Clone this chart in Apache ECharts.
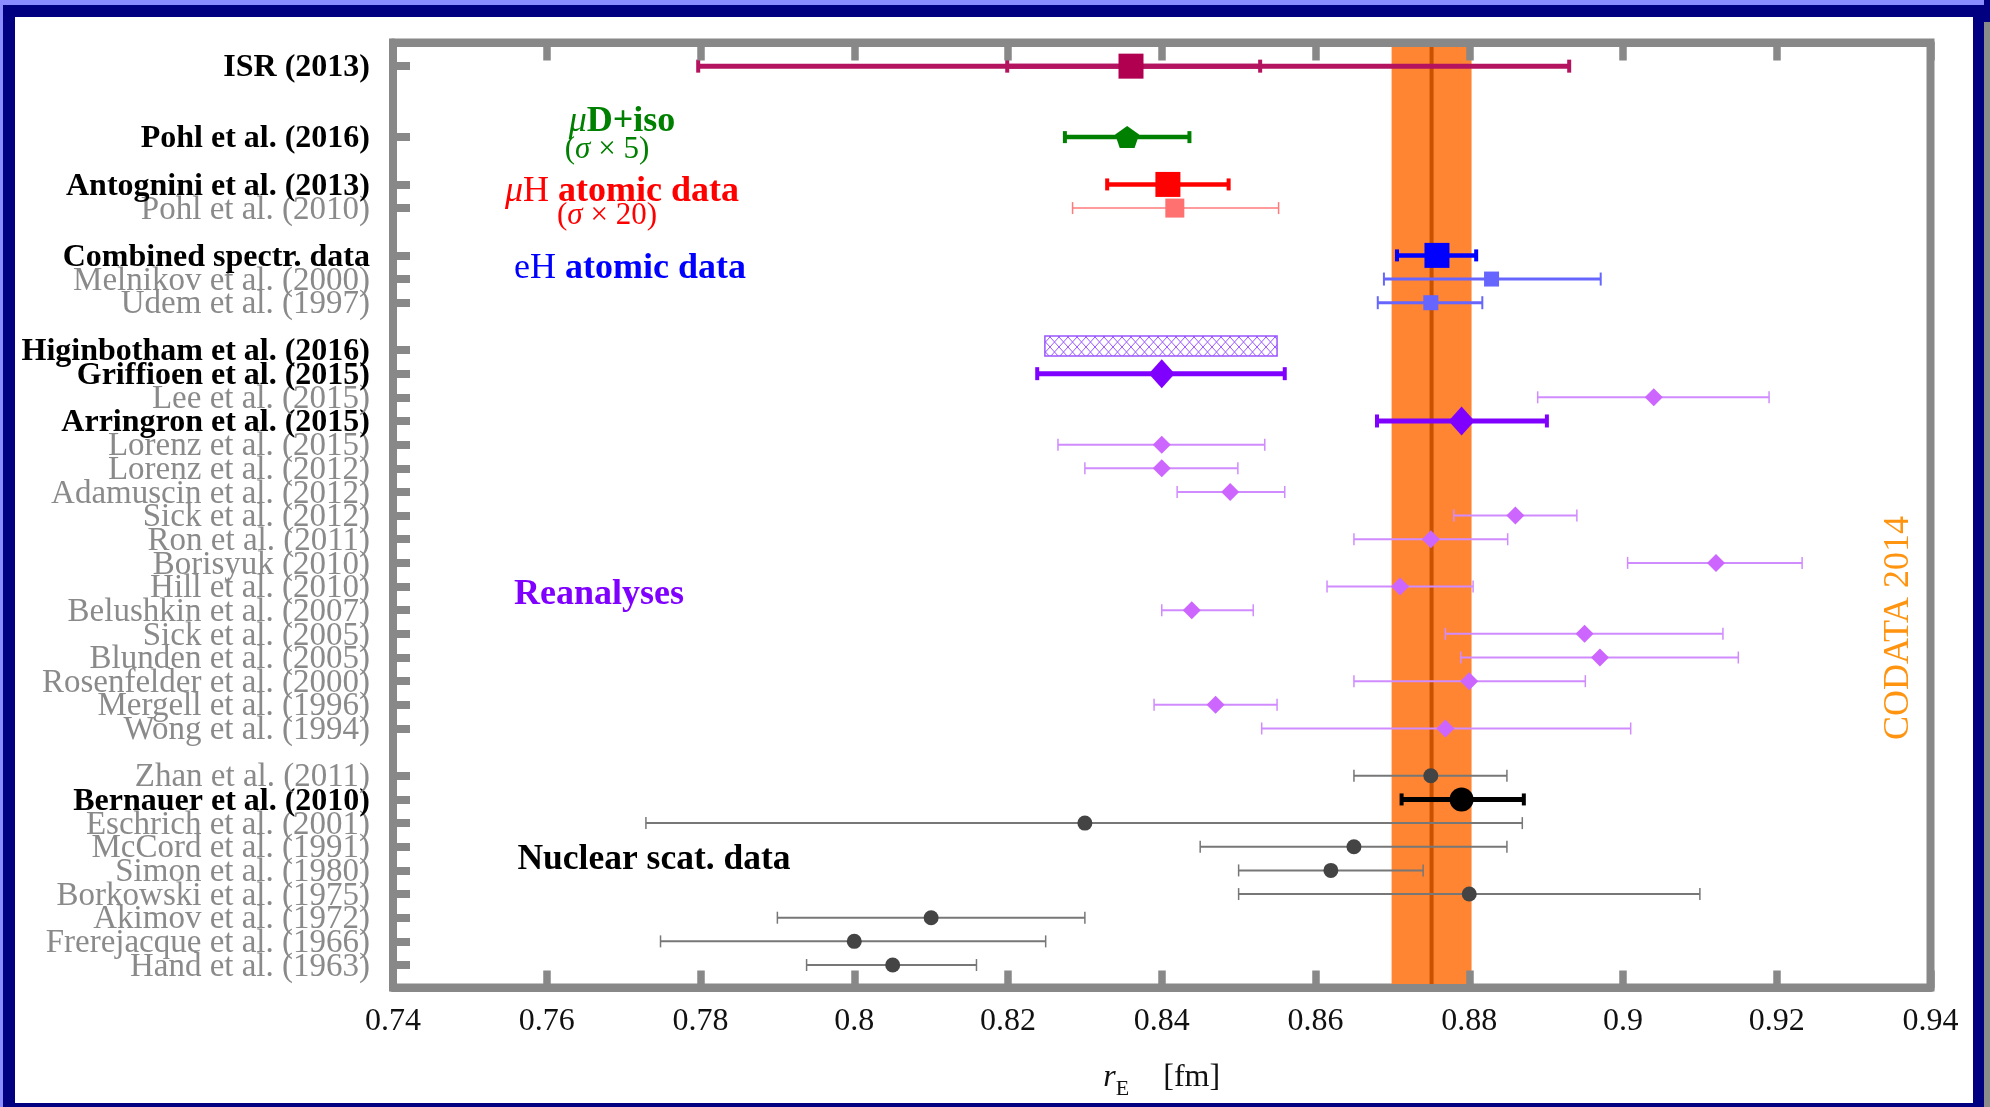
<!DOCTYPE html>
<html>
<head>
<meta charset="utf-8">
<title>Proton charge radius</title>
<script src="https://cdn.jsdelivr.net/npm/echarts@6.0.0/dist/echarts.min.js"></script>
<style>
    html, body { margin: 0; padding: 0; }
    body { width: 1990px; height: 1107px; position: relative; overflow: hidden; background: #000080; }
    #edge_top { position: absolute; left: 0; top: 0; width: 1984px; height: 5px; background: #8a8cff; }
    #edge_left { position: absolute; left: 0; top: 0; width: 3px; height: 1107px; background: #8a8cff; }
    #edge_right { position: absolute; left: 1984px; top: 22px; width: 6px; height: 1085px; background: #8a8a8a; }
    #chart { position: absolute; left: 15px; top: 17px; width: 1958px; height: 1086px; background: #fff; }
</style>
</head>
<body>
<div id="edge_top"></div>
<div id="edge_left"></div>
<div id="edge_right"></div>
<div id="chart"></div>
<script>
// rows of the y axis (0 = bottom), labels and which ones are printed bold
var labels = ['ISR (2013)', 'Pohl et al. (2016)', 'Antognini et al. (2013)', 'Pohl et al. (2010)',
    'Combined spectr. data', 'Melnikov et al. (2000)', 'Udem et al. (1997)',
    'Higinbotham et al. (2016)', 'Griffioen et al. (2015)', 'Lee et al. (2015)', 'Arringron et al. (2015)',
    'Lorenz et al. (2015)', 'Lorenz et al. (2012)', 'Adamuscin et al. (2012)', 'Sick et al. (2012)',
    'Ron et al. (2011)', 'Borisyuk (2010)', 'Hill et al. (2010)', 'Belushkin et al. (2007)',
    'Sick et al. (2005)', 'Blunden et al. (2005)', 'Rosenfelder et al. (2000)', 'Mergell et al. (1996)',
    'Wong et al. (1994)', 'Zhan et al. (2011)', 'Bernauer et al. (2010)', 'Eschrich et al. (2001)',
    'McCord et al. (1991)', 'Simon et al. (1980)', 'Borkowski et al. (1975)', 'Akimov et al. (1972)',
    'Frerejacque et al. (1966)', 'Hand et al. (1963)'];
var rows = [38, 35, 33, 32, 30, 29, 28, 26, 25, 24, 23, 22, 21, 20, 19, 18, 17, 16, 15, 14, 13, 12, 11, 10,
    8, 7, 6, 5, 4, 3, 2, 1, 0];
var boldRows = [38, 35, 33, 30, 26, 25, 23, 7];

var xTicks = [0.74, 0.76, 0.78, 0.8, 0.82, 0.84, 0.86, 0.88, 0.9, 0.92, 0.94];

// [r_E, low, high, row]
var isrPoint = [[0.836, 0.7797, 0.893, 38]];
var isrStat = [[0.836, 0.8199, 0.8528, 38]];
var muDPoint = [[0.8355, 0.8274, 0.8436, 35]];
var muHPoint = [[0.8408, 0.8329, 0.8487, 33]];
var muH2010Point = [[0.8417, 0.8284, 0.8552, 32]];
var eHCombined = [[0.8758, 0.8706, 0.8809, 30]];
var eHPoints = [[0.8829, 0.8689, 0.8971, 29], [0.875, 0.8681, 0.8817, 28]];
// [low, high, row]
var higinbothamBand = [[0.8248, 0.855, 26]];
var reanalysisMain = [[0.84, 0.8238, 0.856, 25], [0.879, 0.868, 0.8901, 23]];
var reanalysisPoints = [[0.904, 0.8889, 0.919, 24], [0.84, 0.8265, 0.8534, 22], [0.84, 0.83, 0.8499, 21],
    [0.8489, 0.842, 0.856, 20], [0.886, 0.878, 0.894, 19], [0.875, 0.865, 0.885, 18],
    [0.9121, 0.9006, 0.9233, 17], [0.871, 0.8615, 0.8805, 16], [0.8439, 0.84, 0.8519, 15],
    [0.895, 0.8769, 0.913, 14], [0.897, 0.8789, 0.915, 13], [0.88, 0.865, 0.8951, 12],
    [0.847, 0.839, 0.855, 11], [0.8769, 0.853, 0.901, 10]];
var scatteringMain = [[0.879, 0.8712, 0.8871, 7]];
var scatteringPoints = [[0.875, 0.865, 0.8849, 8], [0.83, 0.7729, 0.8869, 6], [0.865, 0.845, 0.8849, 5],
    [0.862, 0.85, 0.874, 4], [0.88, 0.85, 0.91, 3], [0.81, 0.79, 0.83, 2], [0.8, 0.7748, 0.8249, 1],
    [0.805, 0.7938, 0.8159, 0]];
// CODATA 2014 [value, low, high]
var codata = [[0.8751, 0.8699, 0.8803]];

var FONT = 'Liberation Serif';
var GRAY = '#888888';

(function(){
    var chart = echarts.init(document.getElementById('chart'));

    // cross hatch for the Higinbotham band
    var hatch = document.createElement('canvas');
    hatch.width = 9;
    hatch.height = 10;
    var ctx = hatch.getContext('2d');
    ctx.strokeStyle = '#9c59ff';
    ctx.lineWidth = 1;
    ctx.beginPath();
    ctx.moveTo(0, 0); ctx.lineTo(9, 10);
    ctx.moveTo(9, 0); ctx.lineTo(0, 10);
    ctx.stroke();

    function errorBars(color, width, capHeight, capWidth) {
        return function (params, api) {
            var row = api.value(3);
            var a = api.coord([api.value(1), row]);
            var b = api.coord([api.value(2), row]);
            var h = capHeight / 2;
            return {
                type: 'group',
                children: [
                    {type: 'line', shape: {x1: a[0], y1: a[1], x2: b[0], y2: b[1]}, style: {stroke: color, lineWidth: width}},
                    {type: 'line', shape: {x1: a[0], y1: a[1] - h, x2: a[0], y2: a[1] + h}, style: {stroke: color, lineWidth: capWidth}},
                    {type: 'line', shape: {x1: b[0], y1: b[1] - h, x2: b[0], y2: b[1] + h}, style: {stroke: color, lineWidth: capWidth}}
                ]
            };
        };
    }

    function barSeries(data, color, width, capHeight, capWidth) {
        return {
            type: 'custom', data: data, encode: {x: [0, 1, 2], y: 3},
            renderItem: errorBars(color, width, capHeight, capWidth),
            z: 2, silent: true, clip: false
        };
    }

    function markerSeries(data, symbol, size, color) {
        return {
            type: 'scatter', data: data, encode: {x: 0, y: 3},
            symbol: symbol, symbolSize: size,
            itemStyle: {color: color, opacity: 1},
            z: 3, silent: true
        };
    }

    var pentagon = 'path://M0,-10L9.51,-3.09L5.88,8.09L-5.88,8.09L-9.51,-3.09Z';

    // label positions: the rows plus an empty slot at each end, so the
    // min/max label logic never drops a real name
    var labelValues = [-0.6].concat(rows.slice().reverse()).concat([38.8]);

    var series = [
        {   // CODATA band
            type: 'custom', data: codata, encode: {x: [0, 1, 2]}, z: 1, silent: true,
            renderItem: function (params, api) {
                var cs = params.coordSys;
                var lo = api.coord([api.value(1), 0])[0];
                var hi = api.coord([api.value(2), 0])[0];
                var mid = api.coord([api.value(0), 0])[0];
                return {
                    type: 'group',
                    children: [
                        {type: 'rect', shape: {x: lo, y: cs.y, width: hi - lo, height: cs.height}, style: {fill: '#ff8532'}},
                        {type: 'line', shape: {x1: mid, y1: cs.y, x2: mid, y2: cs.y + cs.height}, style: {stroke: '#c85200', lineWidth: 4}}
                    ]
                };
            }
        },
        {   // Higinbotham hatched band
            type: 'custom', data: higinbothamBand, encode: {x: [0, 1], y: 2}, z: 2, silent: true,
            renderItem: function (params, api) {
                var row = api.value(2);
                var a = api.coord([api.value(0), row]);
                var b = api.coord([api.value(1), row]);
                return {
                    type: 'rect',
                    shape: {x: a[0], y: a[1] - 14, width: b[0] - a[0], height: 20},
                    style: {fill: {image: hatch, repeat: 'repeat'}, stroke: '#9a55ff', lineWidth: 1.5}
                };
            }
        },
        barSeries(isrPoint, '#b3135f', 5, 13, 4),
        barSeries(isrStat, '#b3135f', 5, 13, 4),
        markerSeries(isrPoint, 'rect', 25, '#b0004f'),

        barSeries(muDPoint, '#008000', 4.5, 12, 4),
        markerSeries(muDPoint, pentagon, [24, 22], '#008000'),

        barSeries(muHPoint, '#ff0000', 4.5, 12, 4),
        markerSeries(muHPoint, 'rect', 25, '#ff0000'),
        barSeries(muH2010Point, '#ff7a7a', 1.5, 12, 1.5),
        markerSeries(muH2010Point, 'rect', 19, '#ff7070'),

        barSeries(eHCombined, '#0000ff', 4.5, 12, 4),
        markerSeries(eHCombined, 'rect', 25, '#0000ff'),
        barSeries(eHPoints, '#6666ff', 3, 13, 2),
        markerSeries(eHPoints, 'rect', 15, '#6666ff'),

        barSeries(reanalysisPoints, '#d08cff', 2, 12, 1.5),
        markerSeries(reanalysisPoints, 'diamond', [18, 18], '#cc66ff'),
        barSeries(reanalysisMain, '#8000ff', 5, 13, 4),
        markerSeries(reanalysisMain, 'diamond', [26, 29], '#8000ff'),

        barSeries(scatteringPoints, '#777777', 2, 12, 1.5),
        markerSeries(scatteringPoints, 'circle', 15, '#444444'),
        barSeries(scatteringMain, '#000000', 5, 12, 4),
        markerSeries(scatteringMain, 'circle', 24, '#000000')
    ];

    var option = {
        animation: false,
        textStyle: {fontFamily: FONT},
        grid: {
            left: 378, right: 42.5, top: 25.5, bottom: 115.5,
            show: true, borderColor: GRAY, borderWidth: 8, backgroundColor: 'transparent',
            containLabel: false, outerBoundsMode: 'none'
        },
        xAxis: [
            {
                type: 'value', position: 'bottom', min: 0.74, max: 0.94, interval: 0.02, z: 10,
                axisLine: {show: true, onZero: false, lineStyle: {color: GRAY, width: 8}},
                axisTick: {show: true, inside: true, length: 17, lineStyle: {color: GRAY, width: 7.5}},
                axisLabel: {
                    show: true, margin: 18, fontSize: 32, color: '#111', fontFamily: FONT,
                    formatter: function (v) {
                        var i = xTicks.findIndex(function (t) { return Math.abs(t - v) < 1e-6; });
                        return i >= 0 ? String(xTicks[i]) : '';
                    }
                },
                splitLine: {show: false},
                name: '{r|r}{s|E}{u|[fm]}',
                nameLocation: 'middle',
                nameGap: 73,
                nameTextStyle: {
                    rich: {
                        r: {fontFamily: FONT, fontStyle: 'italic', fontSize: 32, lineHeight: 34, color: '#111'},
                        s: {fontFamily: FONT, fontSize: 22, lineHeight: 22, padding: [24, 0, 0, 0], color: '#111'},
                        u: {fontFamily: FONT, fontSize: 32, lineHeight: 34, padding: [0, 0, 0, 34], color: '#111'}
                    }
                }
            },
            {
                type: 'value', position: 'top', min: 0.74, max: 0.94, interval: 0.02, z: 10,
                axisLine: {show: true, onZero: false, lineStyle: {color: GRAY, width: 8}},
                axisTick: {show: true, inside: true, length: 18, lineStyle: {color: GRAY, width: 7.5}},
                axisLabel: {show: false},
                splitLine: {show: false}
            }
        ],
        yAxis: {
            type: 'value', min: -0.95, max: 39, z: 10,
            axisLine: {show: true, onZero: false, lineStyle: {color: GRAY, width: 8}},
            axisTick: {show: true, inside: true, length: 17, customValues: rows, lineStyle: {color: GRAY, width: 8}},
            axisLabel: {
                show: true, margin: 23, customValues: labelValues, hideOverlap: false,
                showMinLabel: false, showMaxLabel: false,
                formatter: function (v) {
                    var i = rows.findIndex(function (r) { return Math.abs(r - v) < 1e-6; });
                    if (i < 0) return '';
                    return boldRows.indexOf(rows[i]) >= 0 ? '{b|' + labels[i] + '}' : '{g|' + labels[i] + '}';
                },
                rich: {
                    b: {fontFamily: FONT, fontWeight: 'bold', fontSize: 32, lineHeight: 16, color: '#000', padding: [4, 0, 0, 0]},
                    g: {fontFamily: FONT, fontSize: 33, lineHeight: 16, color: '#8a8a8a', padding: [4, 0, 0, 0]}
                }
            },
            splitLine: {show: false}
        },
        series: series
    };
    chart.setOption(option);

    // text annotations (pixel positions in the page, shifted into the chart box)
    var ox = 15, oy = 17;
    function note(x, y, text, color, size, extra) {
        var el = {
            type: 'text', x: x - ox, y: y - oy, z: 20, silent: true,
            style: {
                text: text, fill: color, fontSize: size, fontFamily: FONT,
                align: 'center', verticalAlign: 'middle',
                rich: {
                    i: {fontStyle: 'italic', fontSize: size, fontFamily: FONT, fill: color},
                    b: {fontWeight: 'bold', fontSize: size, fontFamily: FONT, fill: color}
                }
            }
        };
        if (extra) for (var k in extra) el[k] = extra[k];
        return el;
    }
    chart.setOption({
        graphic: [
            note(622, 122, '{i|μ}{b|D+iso}', '#008000', 36),
            note(607, 150, '({i|σ} × 5)', '#008000', 31),
            note(622, 192, '{i|μ}H {b|atomic data}', '#ff0000', 36),
            note(607, 216, '({i|σ} × 20)', '#ff0000', 31),
            note(630, 269, 'eH {b|atomic data}', '#0000ff', 36),
            note(599, 595, '{b|Reanalyses}', '#8000ff', 36),
            note(654, 860, '{b|Nuclear scat. data}', '#000000', 35.5),
            note(1899, 628, 'CODATA 2014', '#ff9411', 36, {rotation: Math.PI / 2})
        ]
    });
})();
</script>
</body>
</html>
